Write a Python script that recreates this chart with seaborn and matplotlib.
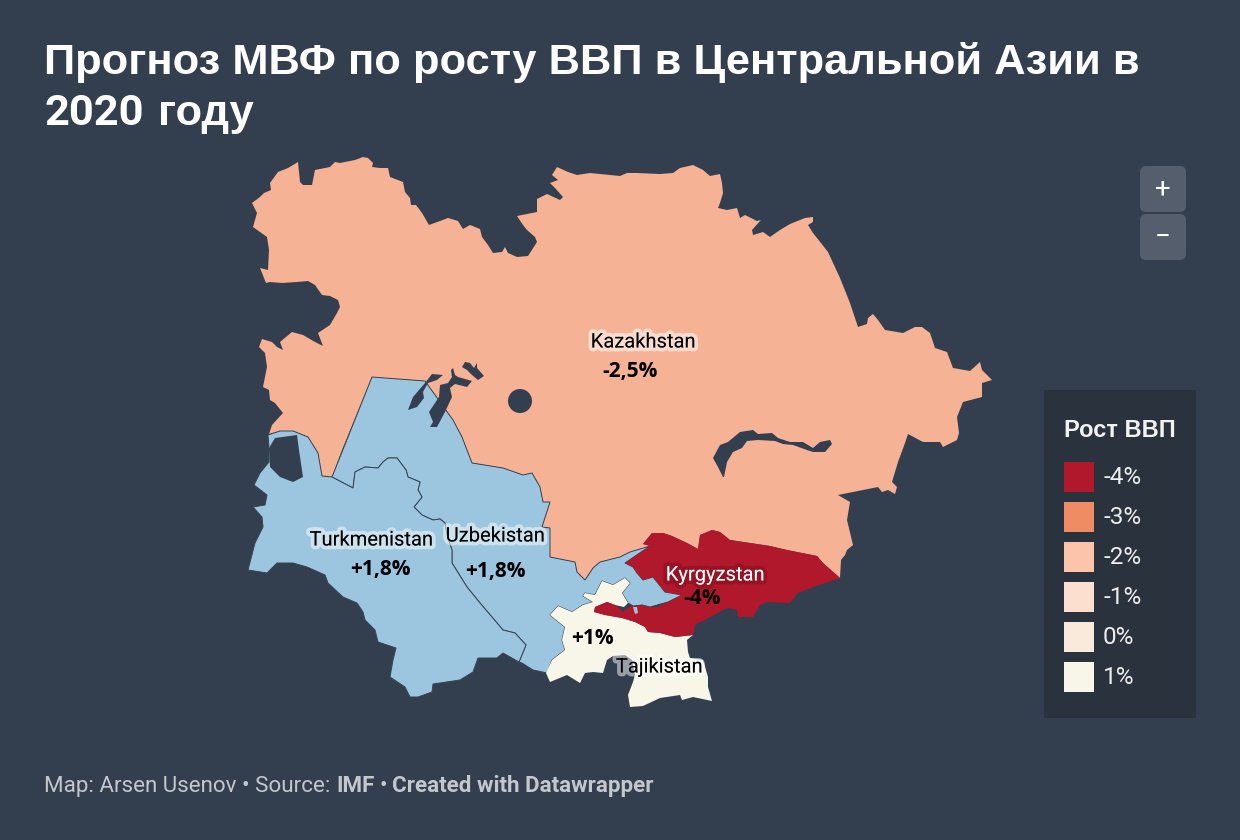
import numpy as np
import seaborn as sns
import matplotlib.pyplot as plt
from matplotlib.colors import ListedColormap
from matplotlib.patches import Circle, FancyBboxPatch, Rectangle
from matplotlib import patheffects as pe

# Chart values
legend_title = "Рост ВВП"
legend_values = [-4, -3, -2, -1, 0, 1]
legend_labels = ["-4%", "-3%", "-2%", "-1%", "0%", "1%"]
legend_colors = ["#b2182b", "#f08c64", "#fcc5ab", "#fddfcf", "#faeadb", "#f7f6e9"]
country_names = ["Kazakhstan", "Turkmenistan", "Uzbekistan", "Kyrgyzstan", "Tajikistan"]
country_values = ["-2,5%", "+1,8%", "+1,8%", "-4%", "+1%"]

# Outlines, in picture coordinates
kazakhstan = [(252,203),(260,197),(264,193),(271,190),(270,183),(278,172),(288,168),(298,162),(300,182),(303,185),(312,185),(315,170),(330,167),(335,162),(340,163),(355,160),(363,157),(368,158),(373,163),(372,167),(380,168),(388,168),(390,177),(403,182),(405,192),(410,198),(411,205),(416,205),(422,213),(429,225),(440,221),(448,218),(458,221),(463,229),(470,225),(480,229),(482,237),(488,245),(493,253),(502,252),(505,247),(508,253),(517,257),(528,256),(537,242),(535,237),(527,230),(523,225),(517,216),(537,212),(537,199),(547,194),(560,200),(563,197),(555,188),(550,183),(558,180),(552,175),(557,167),(568,172),(577,175),(590,173),(620,176),(627,173),(637,173),(660,174),(673,173),(680,168),(693,165),(703,170),(710,176),(720,174),(722,183),(723,193),(720,203),(718,208),(727,210),(737,208),(740,218),(745,215),(757,221),(761,220),(752,230),(753,235),(763,232),(770,237),(780,230),(790,224),(805,218),(813,217),(813,222),(808,225),(813,233),(828,252),(840,278),(850,303),(858,327),(867,324),(868,318),(873,314),(878,320),(885,330),(903,333),(915,327),(922,327),(930,333),(935,348),(947,352),(953,368),(970,371),(980,362),(982,370),(992,380),(982,383),(982,397),(963,402),(957,417),(959,433),(957,440),(943,447),(940,442),(923,442),(908,434),(905,443),(898,462),(892,482),(897,487),(895,494),(888,490),(882,492),(878,487),(853,492),(838,495),(850,502),(847,520),(853,545),(847,550),(845,555),(841,560),(840,578),(823,563),(817,556),(787,550),(770,546),(750,543),(730,540),(720,532),(712,530),(700,535),(698,549),(687,543),(672,536),(663,533),(652,533),(643,544),(650,546),(630,552),(620,557),(600,562),(593,568),(585,580),(577,572),(575,562),(550,557),(550,528),(542,527),(550,502),(543,502),(540,487),(532,473),(523,475),(503,468),(472,463),(462,437),(453,420),(425,381),(372,377),(342,450),(332,477),(322,476),(318,453),(308,437),(293,431),(280,431),(269,434),(272,425),(283,413),(275,403),(270,400),(269,390),(263,387),(267,367),(265,353),(259,347),(262,339),(272,342),(277,347),(283,350),(280,342),(292,332),(303,335),(315,342),(323,346),(318,333),(330,325),(337,313),(340,307),(338,300),(330,296),(322,295),(315,285),(308,281),(297,282),(282,283),(270,282),(266,283),(260,268),(268,270),(269,250),(267,237),(253,227),(257,213)]
uzbekistan = [(372,377),(425,381),(453,420),(462,437),(472,463),(503,468),(523,475),(532,473),(540,487),(543,502),(550,502),(542,527),(550,528),(550,557),(575,562),(577,572),(585,580),(593,568),(600,562),(620,557),(630,552),(650,546),(625,563),(633,567),(637,573),(643,580),(653,577),(665,592),(682,595),(668,602),(650,607),(642,605),(633,606),(628,603),(622,593),(630,583),(625,578),(613,585),(602,581),(595,595),(585,593),(583,596),(593,602),(583,605),(572,612),(558,606),(550,615),(565,627),(562,640),(565,650),(552,660),(547,673),(533,670),(522,663),(519,662),(526,645),(515,633),(503,630),(480,603),(467,587),(452,563),(452,550),(447,535),(445,523),(440,519),(433,520),(422,515),(414,507),(422,497),(418,490),(420,482),(408,477),(406,470),(397,458),(388,458),(383,462),(378,468),(365,467),(355,472),(353,488),(332,477)]
turkmenistan = [(332,477),(353,488),(355,472),(365,467),(378,468),(383,462),(388,458),(397,458),(406,470),(408,477),(420,482),(418,490),(422,497),(414,507),(422,515),(433,520),(440,519),(445,523),(447,535),(452,550),(452,563),(467,587),(480,603),(503,630),(515,633),(526,645),(519,662),(503,653),(497,658),(478,658),(473,672),(460,680),(433,684),(432,692),(418,697),(410,697),(405,687),(390,677),(393,660),(396,648),(378,642),(375,630),(365,620),(363,612),(357,603),(343,597),(328,583),(325,575),(307,567),(293,563),(277,563),(267,573),(248,570),(255,543),(263,527),(262,517),(253,507),(265,505),(267,495),(254,485),(260,473),(269,462),(269,448),(268,435),(280,431),(293,431),(308,437),(318,453),(322,476)]
kyrgyzstan = [(840,578),(823,563),(817,556),(787,550),(770,546),(750,543),(730,540),(720,532),(712,530),(700,535),(698,549),(687,543),(672,536),(663,533),(652,533),(643,544),(650,546),(625,563),(633,567),(637,573),(643,580),(653,577),(665,592),(682,595),(668,602),(657,607),(648,607),(642,605),(633,606),(628,608),(623,612),(615,605),(607,602),(595,607),(594,612),(605,615),(622,618),(635,622),(645,627),(648,632),(660,633),(675,637),(693,635),(695,625),(710,617),(727,608),(737,610),(738,617),(753,617),(760,605),(767,602),(790,603),(798,593),(813,587)]
tajikistan = [(602,581),(613,585),(625,578),(630,583),(622,593),(628,603),(624,607),(615,605),(607,602),(595,607),(594,612),(605,615),(622,618),(635,622),(645,627),(648,632),(660,633),(675,637),(693,635),(687,640),(688,652),(690,658),(703,660),(708,677),(708,687),(712,701),(693,697),(682,700),(680,695),(660,698),(643,706),(630,707),(628,695),(633,682),(635,675),(632,660),(625,655),(613,656),(607,660),(603,673),(593,672),(585,673),(580,683),(567,675),(550,682),(546,673),(552,660),(565,650),(562,640),(565,627),(550,615),(558,606),(572,612),(583,605),(593,602),(583,596),(585,593),(595,595)]
enclave = [(633,607),(637,607),(638,613),(635,614)]
kara_bogaz = [(275,438),(297,435),(299,450),(303,477),(293,482),(280,477),(270,467),(269,448)]
aral_west = [(443,375),(432,374),(425,383),(413,397),(408,410),(417,407),(424,398),(423,392),(428,383),(437,380)]
aral_east = [(440,385),(439,397),(429,412),(433,422),(430,427),(437,427),(445,412),(452,397),(450,388),(455,384),(467,387),(472,381),(458,377),(455,375),(453,368),(451,370),(452,377),(448,383)]
aral_north = [(462,367),(465,362),(470,363),(474,368),(477,363),(477,368),(484,376),(478,380),(472,375),(467,370)]
balkhash = [(723,477),(718,467),(713,458),(720,445),(728,442),(740,432),(753,430),(758,434),(772,433),(778,438),(790,442),(803,442),(813,448),(820,442),(830,440),(832,444),(825,452),(813,452),(807,450),(793,445),(783,444),(775,441),(758,440),(747,441),(742,448),(733,452),(727,462),(724,477)]

BG = "#333e4f"
PANEL = "#2a323e"
BLUE = "#9cc6e0"
EDGE = "#37434f"

sns.set_theme(style="white", rc={"figure.facecolor": BG, "axes.facecolor": BG})
plt.rcParams["font.family"] = ["Roboto", "DejaVu Sans"]

fig = plt.figure(figsize=(12.4, 8.4), dpi=100)
ax = fig.add_axes([0, 0, 1, 1])
ax.set_xlim(0, 1240)
ax.set_ylim(840, 0)
ax.axis("off")


def draw_shape(points, color, edge="none", lw=0.0, z=2):
    xs, ys = zip(*points)
    ax.fill(xs, ys, facecolor=color, edgecolor=edge, linewidth=lw, zorder=z)


draw_shape(kazakhstan, "#f6b295", z=2)
draw_shape(uzbekistan, BLUE, EDGE, 0.7, z=3)
draw_shape(turkmenistan, BLUE, EDGE, 0.7, z=3)
draw_shape(tajikistan, legend_colors[5], z=4)
draw_shape(kyrgyzstan, legend_colors[0], z=5)
draw_shape(enclave, BLUE, z=6)
for lake in [kara_bogaz, aral_west, aral_east, aral_north, balkhash]:
    draw_shape(lake, BG, z=6)
ax.add_patch(Circle((520, 401), 12, facecolor=BG, edgecolor="none", zorder=6))


def halo_text(x, y, s, halo, color="black"):
    t = ax.text(x, y, s, ha="center", va="center", fontsize=14.5, color=color, zorder=8)
    t.set_path_effects([pe.withStroke(linewidth=5.5, foreground=halo)])


halo_text(643, 342, country_names[0], (1, 1, 1, 0.55))
halo_text(371, 540, country_names[1], (1, 1, 1, 0.5))
halo_text(495, 536, country_names[2], (1, 1, 1, 0.5))
halo_text(715, 575, country_names[3], (0.45, 0.05, 0.1, 0.45), color="white")
halo_text(659, 667, country_names[4], (1, 1, 1, 0.5))

value_spots = [(630, 372), (380, 569), (495, 572), (702, 598), (592, 639)]
for (vx, vy), val in zip(value_spots, country_values):
    ax.text(vx, vy, val, ha="center", va="center", fontsize=15, fontweight="bold",
            family=["Open Sans", "DejaVu Sans"], color="black", zorder=9)

# Title and footer, the digits are Roboto and the Cyrillic falls back to Liberation
ax.text(44, 74, "Прогноз МВФ по росту ВВП в Центральной Азии в", fontsize=31.3, fontweight="bold",
        family="Liberation Sans", color="white", va="baseline")
ax.text(44, 125, "2020", fontsize=31.3, fontweight="bold", family="Roboto", color="white", va="baseline")
ax.text(158, 125, "году", fontsize=31.3, fontweight="bold",
        family="Liberation Sans", color="white", va="baseline")
foot_size = 16.1
foot = ax.text(44, 792, "Map: Arsen Usenov • Source: ", fontsize=foot_size, color="#c4c7cc", va="baseline")
fig.canvas.draw()
foot_end = foot.get_window_extent().x1
mid = ax.text(foot_end, 792, "IMF", fontsize=foot_size, fontweight="bold", color="#c4c7cc", va="baseline")
fig.canvas.draw()
mid_end = mid.get_window_extent().x1
tail = ax.text(mid_end + 5, 792, "•", fontsize=foot_size, color="#c4c7cc", va="baseline")
fig.canvas.draw()
ax.text(tail.get_window_extent().x1 + 5, 792, "Created with Datawrapper", fontsize=foot_size, fontweight="bold",
        color="#c4c7cc", va="baseline")

# Zoom buttons
for top, sign in [(166, "+"), (214, "−")]:
    ax.add_patch(FancyBboxPatch((1146, top + 6), 34, 34, boxstyle="round,pad=6,rounding_size=6",
                                facecolor="#545e6d", edgecolor="none", zorder=2))
    ax.text(1163, top + 23, sign, ha="center", va="center", color="white", fontsize=20, zorder=3)

# Legend
ax.add_patch(Rectangle((1044, 390), 152, 328, facecolor=PANEL, edgecolor="none", zorder=2))
ax.text(1064, 437, legend_title, fontsize=17, fontweight="bold", family="Liberation Sans",
        color="#f2f2f2", va="baseline", zorder=3)

leg_ax = fig.add_axes([1059 / 1240, 1 - 697 / 840, 40 / 1240, 240 / 840])
sns.heatmap(np.array(legend_values)[:, None], ax=leg_ax, cmap=ListedColormap(legend_colors), cbar=False,
            linewidths=7.2, linecolor=PANEL, xticklabels=False, yticklabels=False,
            vmin=-4.5, vmax=1.5)
for i, label in enumerate(legend_labels):
    ax.text(1103, 477 + 40 * i, label, fontsize=17.5, color="#eeeeee", va="center", zorder=3)

fig.savefig("out.png", dpi=100, facecolor=BG)
